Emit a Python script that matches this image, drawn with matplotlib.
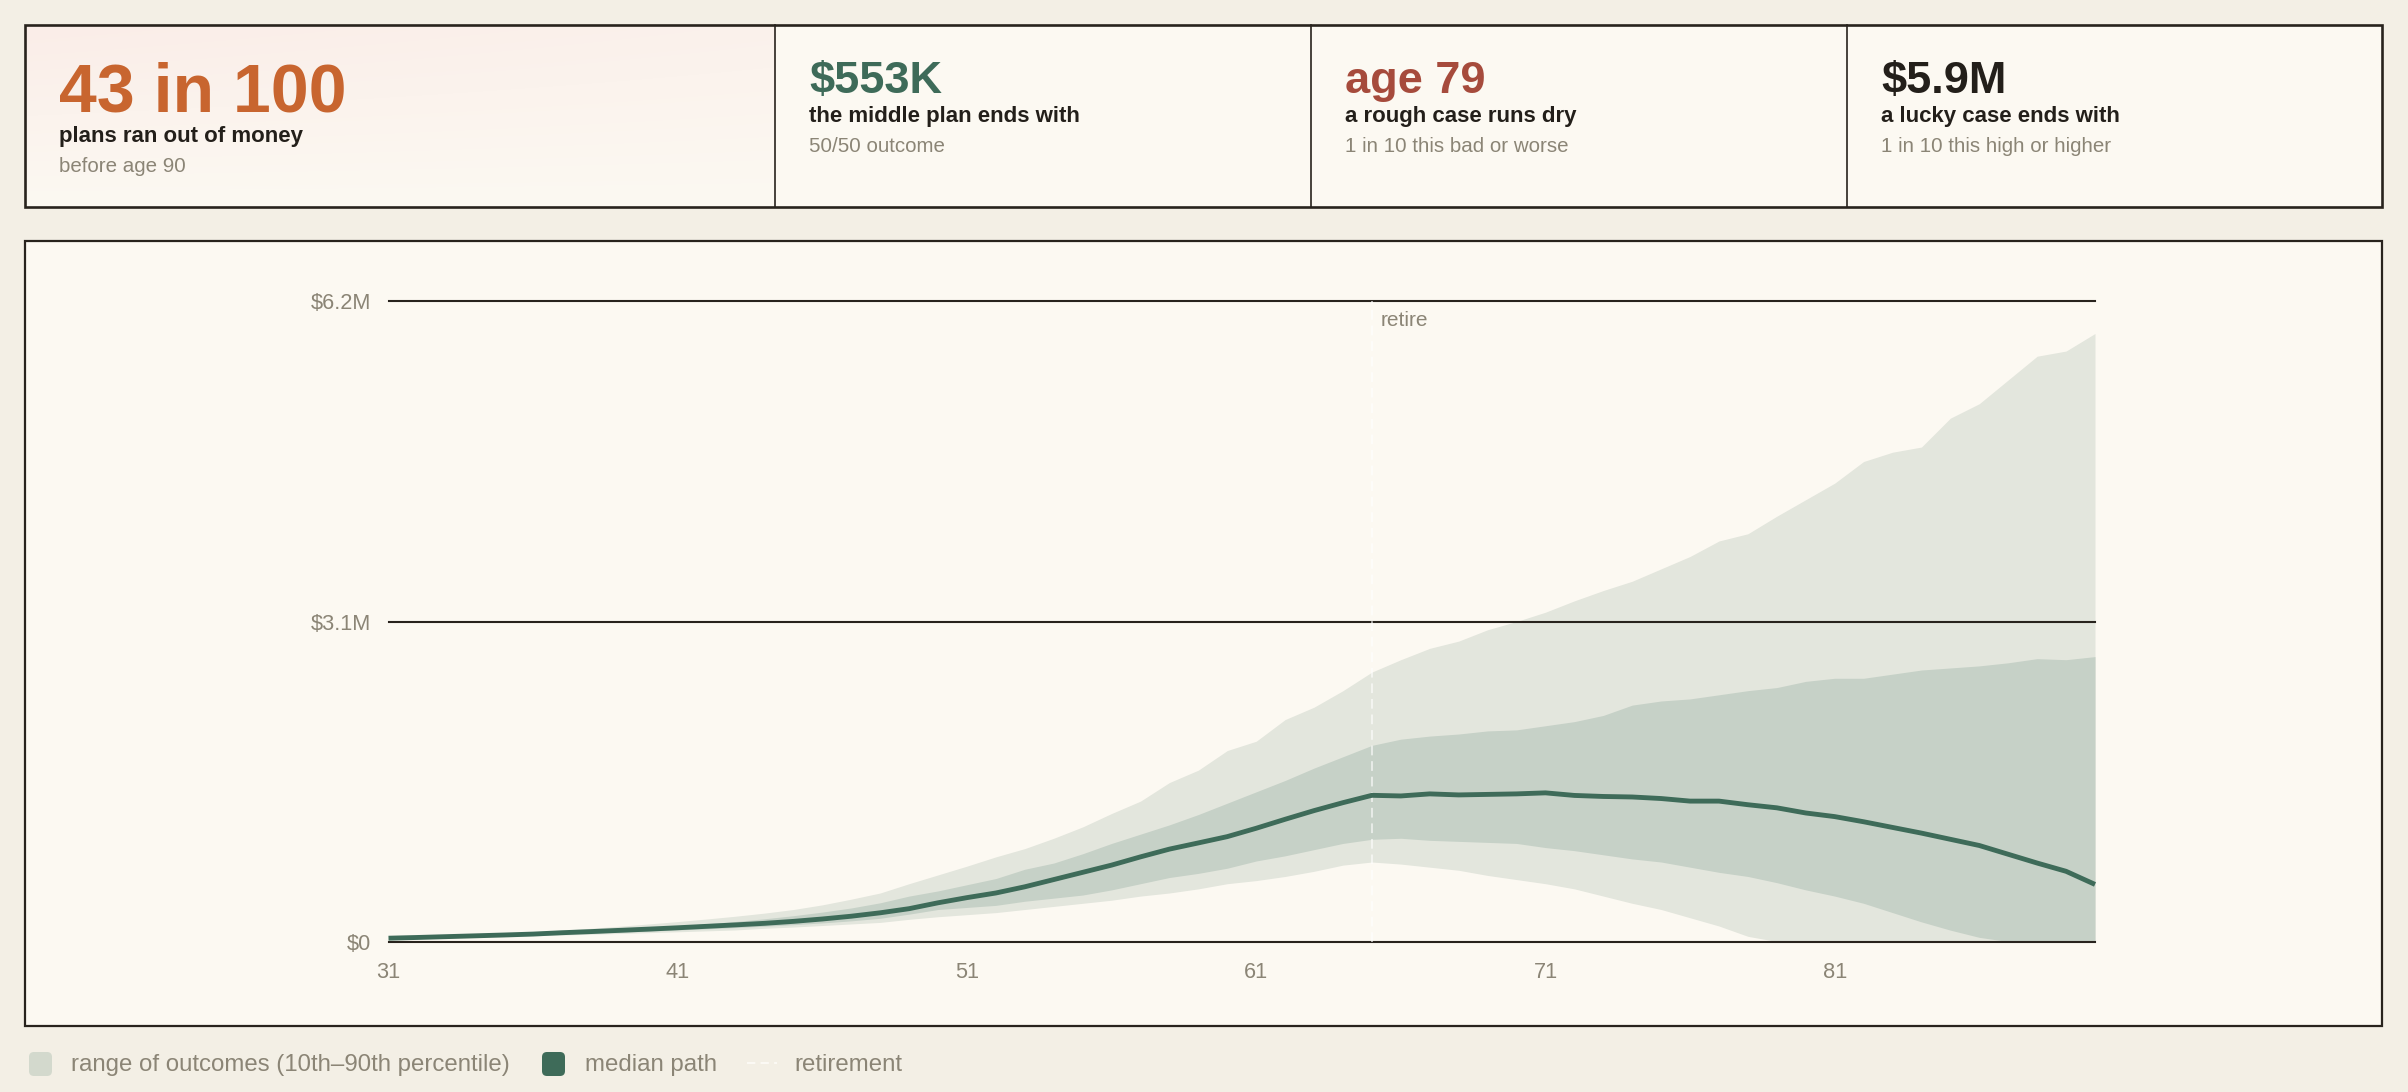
import numpy as np
import matplotlib
matplotlib.use("Agg")
import matplotlib.pyplot as plt
from matplotlib.patches import Rectangle, FancyBboxPatch
from matplotlib.lines import Line2D

plt.rcParams['font.family'] = ['Liberation Sans', 'DejaVu Sans']

# ---- data (millions of dollars) ----
ages = list(range(31, 91))
retire_age = 65

p90 = [0.035, 0.045, 0.056, 0.068, 0.080, 0.094, 0.110, 0.128, 0.148, 0.170,
       0.193, 0.218, 0.245, 0.275, 0.310, 0.355, 0.410, 0.470, 0.560, 0.645,
       0.730, 0.820, 0.900, 1.000, 1.110, 1.240, 1.360, 1.540, 1.660, 1.850,
       1.940, 2.150, 2.270, 2.430, 2.610, 2.730, 2.840, 2.910, 3.020, 3.100,
       3.190, 3.300, 3.400, 3.490, 3.610, 3.730, 3.880, 3.950, 4.120, 4.280,
       4.440, 4.650, 4.740, 4.790, 5.070, 5.210, 5.440, 5.670, 5.720, 5.890]
p75 = [0.033, 0.042, 0.051, 0.060, 0.070, 0.081, 0.094, 0.107, 0.121, 0.137,
       0.153, 0.172, 0.194, 0.220, 0.250, 0.285, 0.325, 0.375, 0.440, 0.490,
       0.550, 0.610, 0.700, 0.760, 0.850, 0.950, 1.040, 1.130, 1.230, 1.340,
       1.450, 1.560, 1.680, 1.790, 1.900, 1.960, 1.990, 2.010, 2.040, 2.050,
       2.090, 2.130, 2.190, 2.290, 2.330, 2.350, 2.390, 2.430, 2.460, 2.520,
       2.550, 2.550, 2.590, 2.630, 2.650, 2.670, 2.700, 2.740, 2.730, 2.760]
median = [0.032, 0.039, 0.047, 0.055, 0.063, 0.072, 0.085, 0.096, 0.108, 0.120,
          0.133, 0.147, 0.161, 0.176, 0.195, 0.218, 0.245, 0.278, 0.318, 0.375,
          0.425, 0.470, 0.530, 0.600, 0.670, 0.740, 0.820, 0.895, 0.955, 1.016,
          1.097, 1.184, 1.268, 1.345, 1.416, 1.410, 1.430, 1.420, 1.425, 1.430,
          1.440, 1.415, 1.405, 1.400, 1.385, 1.360, 1.360, 1.325, 1.295, 1.245,
          1.210, 1.160, 1.105, 1.050, 0.990, 0.930, 0.845, 0.760, 0.680, 0.553]
p25 = [0.028, 0.035, 0.042, 0.049, 0.056, 0.064, 0.073, 0.082, 0.091, 0.101,
       0.112, 0.123, 0.135, 0.148, 0.163, 0.180, 0.200, 0.225, 0.265, 0.310,
       0.330, 0.350, 0.390, 0.420, 0.450, 0.500, 0.560, 0.620, 0.660, 0.710,
       0.780, 0.830, 0.890, 0.950, 0.990, 1.000, 0.980, 0.970, 0.960, 0.950,
       0.910, 0.880, 0.840, 0.800, 0.770, 0.720, 0.670, 0.630, 0.570, 0.500,
       0.440, 0.370, 0.280, 0.190, 0.110, 0.040, 0.0, 0.0, 0.0, 0.0]
p10 = [0.026, 0.032, 0.038, 0.044, 0.050, 0.056, 0.063, 0.070, 0.078, 0.086,
       0.094, 0.103, 0.112, 0.128, 0.140, 0.155, 0.170, 0.185, 0.215, 0.240,
       0.260, 0.280, 0.310, 0.340, 0.370, 0.400, 0.440, 0.470, 0.510, 0.560,
       0.590, 0.630, 0.680, 0.740, 0.770, 0.750, 0.720, 0.690, 0.640, 0.600,
       0.560, 0.510, 0.440, 0.370, 0.310, 0.230, 0.150, 0.050, 0.0, 0.0,
       0.0, 0.0, 0.0, 0.0, 0.0, 0.0, 0.0, 0.0, 0.0, 0.0]

y_ticks = [0, 3.1, 6.2]
y_tick_labels = ["$0", "$3.1M", "$6.2M"]
x_ticks = [31, 41, 51, 61, 71, 81]

card_values = ["43 in 100", "$553K", "age 79", "$5.9M"]
card_titles = ["plans ran out of money", "the middle plan ends with",
               "a rough case runs dry", "a lucky case ends with"]
card_notes = ["before age 90", "50/50 outcome",
              "1 in 10 this bad or worse", "1 in 10 this high or higher"]
card_colors = ["#c8652f", "#3e6b59", "#a64b3c", "#231f1a"]

legend_labels = ["range of outcomes (10th\u201390th percentile)", "median path", "retirement"]

# ---- styles ----
PAGE = "#f3efe5"
PANEL = "#fcf9f2"
INK = "#28231d"
GREY = "#8b8576"
OUTER = "#e3e6dd"
INNER = "#c6d1c7"
GREEN = "#3e6b59"

W, H = 2408, 1092
fig = plt.figure(figsize=(W / 100, H / 100), dpi=100, facecolor=PAGE)

# background layer in pixel coordinates
bg = fig.add_axes([0, 0, 1, 1])
bg.set_xlim(0, W)
bg.set_ylim(H, 0)
bg.axis('off')

# stat cards
card_edges = [25, 775, 1311, 1847, 2382]
card_top, card_bot = 25, 207
bg.add_patch(Rectangle((25, card_top), 2382 - 25, card_bot - card_top,
                       facecolor=PANEL, edgecolor='none', zorder=1))
# soft pink wash on the first card
gy, gx = np.mgrid[0:1:100j, 0:1:200j]
wash = np.clip((1 - gy) * (1 - 0.35 * gx), 0, 1)
top_c = np.array([250, 237, 232]) / 255
bot_c = np.array([252, 249, 242]) / 255
img = bot_c + (top_c - bot_c) * wash[..., None]
bg.imshow(img, extent=(25, 775, card_bot, card_top), aspect='auto', zorder=1.5,
          interpolation='bilinear')
bg.add_patch(Rectangle((25, card_top), 2382 - 25, card_bot - card_top,
                       facecolor='none', edgecolor=INK, lw=1.9, zorder=3))
for xe in card_edges[1:-1]:
    bg.plot([xe, xe], [card_top, card_bot], color=INK, lw=1.2, zorder=3)

for i, (val, title, note, col) in enumerate(zip(card_values, card_titles, card_notes, card_colors)):
    x0 = card_edges[i] + 34
    if i == 0:
        bg.text(x0, 111, val, fontsize=49, fontweight='bold', color=col,
                va='baseline', zorder=4)
        ty, ny = 142, 172
    else:
        bg.text(x0, 92.5, val, fontsize=32.5, fontweight='bold', color=col,
                va='baseline', zorder=4)
        ty, ny = 122, 152
    bg.text(x0, ty, title, fontsize=16, fontweight='bold', color="#231f1a",
            va='baseline', zorder=4)
    bg.text(x0, ny, note, fontsize=14.8, color=GREY, va='baseline', zorder=4)

# chart panel
bg.add_patch(Rectangle((25, 241), 2382 - 25, 1026 - 241,
                       facecolor=PANEL, edgecolor=INK, lw=1.6, zorder=1))

# legend
bg.add_patch(FancyBboxPatch((29, 1052), 23, 24, boxstyle="round,pad=0,rounding_size=5",
                            facecolor="#d3d9cd", edgecolor='none', zorder=2))
bg.text(71, 1071, legend_labels[0], fontsize=17.3, color=GREY, va='baseline', zorder=2)
bg.add_patch(FancyBboxPatch((542, 1052), 23, 24, boxstyle="round,pad=0,rounding_size=5",
                            facecolor=GREEN, edgecolor='none', zorder=2))
bg.text(585, 1071, legend_labels[1], fontsize=17.3, color=GREY, va='baseline', zorder=2)
bg.add_line(Line2D([747, 777], [1063, 1063], color="#fbf9f4", lw=1.5,
                   linestyle=(0, (4, 2.5)), zorder=2))
bg.text(794, 1071, legend_labels[2], fontsize=17.3, color=GREY, va='baseline', zorder=2)

# ---- main chart ----
px_left, px_right = 388.5, 2095
px_zero, px_top = 941.5, 301.5
ax = fig.add_axes([px_left / W, (H - px_zero) / H,
                   (px_right - px_left) / W, (px_zero - px_top) / H])
ax.set_facecolor('none')
ax.set_xlim(ages[0], ages[-1])
ax.set_ylim(0, 6.2)

ax.fill_between(ages, p10, p90, color=OUTER, lw=0, zorder=1)
ax.fill_between(ages, p25, p75, color=INNER, lw=0, zorder=2)
for yv in y_ticks:
    ax.axhline(yv, color=INK, lw=1.5, zorder=3, clip_on=False)
ax.axvline(retire_age, color='white', alpha=0.6, lw=1.4, linestyle=(0, (5, 3)), zorder=3.5)
ax.plot(ages, median, color=GREEN, lw=3.5, zorder=4, solid_capstyle='butt', clip_on=False)
ax.annotate('retire', xy=(retire_age, 6.2), xytext=(9, -25), textcoords='offset pixels',
            fontsize=15, color=GREY, va='baseline', ha='left')

for s in ax.spines.values():
    s.set_visible(False)
ax.set_yticks(y_ticks)
ax.set_yticklabels(y_tick_labels)
ax.set_xticks(x_ticks)
ax.set_xticklabels([str(t) for t in x_ticks])
ax.tick_params(axis='y', length=0, pad=12.6, labelsize=15.7, labelcolor=GREY)
ax.tick_params(axis='x', length=0, pad=14.5, labelsize=15.7, labelcolor=GREY)

fig.savefig('out.png', dpi=100, facecolor=PAGE)
